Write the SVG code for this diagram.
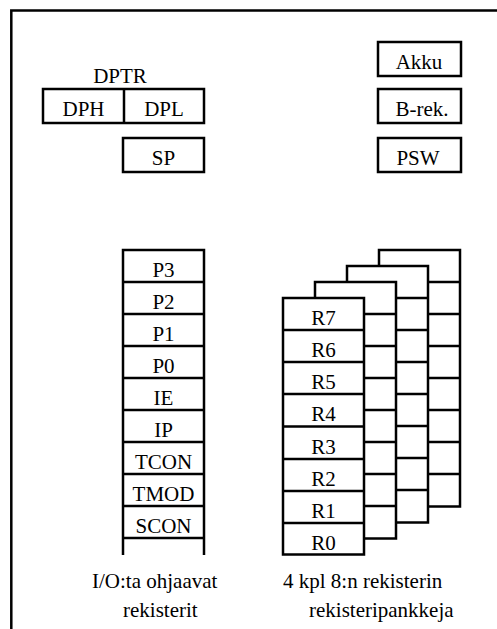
<svg xmlns="http://www.w3.org/2000/svg" width="497" height="629" viewBox="0 0 497 629">
<style>
.b{fill:#fff;stroke:#000;stroke-width:2.5}
.l{fill:none;stroke:#000;stroke-width:2.5}
text{font-family:"Liberation Serif","Times New Roman",serif;font-size:21px;fill:#000;text-anchor:middle}
.s{text-anchor:start}
</style>
<rect width="497" height="629" fill="#fff"/>
<g id="frame">
<path class="l" d="M11.3 629V10.5H497"/>
</g>
<g id="dptr">
<text x="120" y="83">DPTR</text>
<rect class="b" x="43" y="89" width="161" height="34"/>
<line class="l" x1="124" y1="89" x2="124" y2="123"/>
<text x="83.5" y="116">DPH</text>
<text x="164" y="116">DPL</text>
</g>
<g id="sp">
<rect class="b" x="123" y="138" width="81" height="34"/>
<text x="163.5" y="165">SP</text>
</g>
<g id="akku">
<rect class="b" x="378" y="42" width="83" height="34"/>
<text x="419" y="69">Akku</text>
</g>
<g id="brek">
<rect class="b" x="378" y="89" width="83" height="34"/>
<text x="422" y="116">B-rek.</text>
</g>
<g id="psw">
<rect class="b" x="378" y="138" width="83" height="34"/>
<text x="418" y="165">PSW</text>
</g>
<g id="io-stack">
<path class="l" d="M123 555V250H204V555"/>
<path class="l" d="M123 282H204M123 314H204M123 346H204M123 378H204M123 410H204M123 442H204M123 474H204M123 506H204M123 538H204"/>
<text x="163.5" y="277">P3</text>
<text x="163.5" y="309">P2</text>
<text x="163.5" y="341">P1</text>
<text x="163.5" y="373">P0</text>
<text x="163.5" y="405">IE</text>
<text x="163.5" y="437">IP</text>
<text x="163.5" y="469">TCON</text>
<text x="163.5" y="501">TMOD</text>
<text x="163.5" y="533">SCON</text>
</g>
<g id="bank3">
<rect class="b" x="379" y="250" width="81" height="256.5"/>
<path class="l" d="M379 282H460M379 314H460M379 346H460M379 378H460M379 410H460M379 442H460M379 474H460"/>
</g>
<g id="bank2">
<rect class="b" x="347" y="266" width="81" height="256.5"/>
<path class="l" d="M347 298H428M347 330H428M347 362H428M347 394H428M347 426H428M347 458H428M347 490H428"/>
</g>
<g id="bank1">
<rect class="b" x="315" y="282" width="81" height="256.5"/>
<path class="l" d="M315 314H396M315 346H396M315 378H396M315 410H396M315 442H396M315 474H396M315 506H396"/>
</g>
<g id="bank0">
<rect class="b" x="283" y="298" width="81" height="256.5"/>
<path class="l" d="M283 330H364M283 362H364M283 394H364M283 426.5H364M283 459H364M283 491H364M283 523H364"/>
<text x="323.5" y="325">R7</text>
<text x="323.5" y="357">R6</text>
<text x="323.5" y="389">R5</text>
<text x="323.5" y="421">R4</text>
<text x="323.5" y="454">R3</text>
<text x="323.5" y="486">R2</text>
<text x="323.5" y="518">R1</text>
<text x="323.5" y="550">R0</text>
</g>
<g id="labels">
<text class="s" x="92" y="588">I/O:ta ohjaavat</text>
<text class="s" x="123" y="617">rekisterit</text>
<text class="s" x="283" y="588">4 kpl 8:n rekisterin</text>
<text class="s" x="309" y="617">rekisteripankkeja</text>
</g>
</svg>
